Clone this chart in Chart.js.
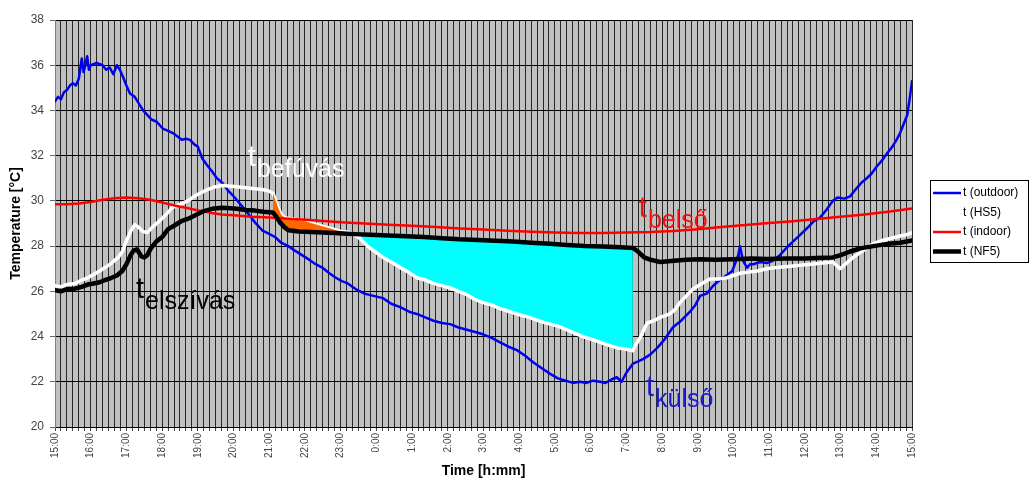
<!DOCTYPE html>
<html>
<head>
<meta charset="utf-8">
<title>Temperature [°C] – outdoor / HS5 / indoor / NF5</title>
<script src="https://cdn.jsdelivr.net/npm/chart.js@4.4.1/dist/chart.umd.min.js"></script>
<style>
  html, body { margin: 0; padding: 0; background: #fff; }
  #wrap { width: 1031px; height: 480px; }
</style>
</head>
<body>
<div id="wrap"><canvas id="chartTemp" width="1031" height="480"></canvas></div>
<script>
/* ── Data (x = minutes after 15:00, y = °C) ──────────────── */
const HOUR_LABELS = ['15:00','16:00','17:00','18:00','19:00','20:00','21:00','22:00','23:00','0:00','1:00','2:00','3:00','4:00','5:00','6:00','7:00','8:00','9:00','10:00','11:00','12:00','13:00','14:00','15:00'];
const SERIES_LABELS = ['t (outdoor)', 't (HS5)', 't (indoor)', 't (NF5)'];
const Y_TICKS = [20, 22, 24, 26, 28, 30, 32, 34, 36, 38];

const OUTDOOR_MIN = [0,5,10,15,20,25,30,35,40,45,48,51,54,57,60,70,80,86,92,98,104,109,114,120,126,134,141,148,155,162,171,181,190,198,206,213,220,227,234,240,247,255,264,272,281,291,302,313,324,336,348,359,370,380,392,403,415,427,438,449,461,472,482,492,505,520,535,551,565,580,595,608,622,636,650,664,678,692,706,719,733,747,762,776,790,804,818,832,845,858,870,882,893,904,916,925,935,944,952,960,971,980,988,1000,1012,1025,1038,1052,1067,1076,1084,1095,1106,1117,1128,1138,1143,1148,1151,1154,1157,1163,1168,1173,1185,1196,1206,1218,1230,1240,1252,1264,1275,1285,1296,1307,1315,1326,1336,1345,1355,1364,1372,1380,1390,1398,1407,1414,1420,1426,1432,1436,1440];
const OUTDOOR_T = [34.4,34.6,34.5,34.8,34.9,35.1,35.2,35.1,35.4,36.3,35.7,36.0,36.4,35.8,36.0,36.1,36.0,35.8,35.9,35.6,36.0,35.8,35.5,35.1,34.75,34.6,34.3,34.0,33.8,33.6,33.5,33.2,33.1,33.0,32.85,32.7,32.75,32.7,32.5,32.4,31.9,31.6,31.3,31.0,30.8,30.45,30.15,29.8,29.45,29.05,28.7,28.55,28.4,28.15,28.0,27.8,27.6,27.4,27.2,27.05,26.8,26.6,26.45,26.35,26.1,25.9,25.8,25.7,25.45,25.3,25.1,25.0,24.85,24.7,24.6,24.55,24.4,24.3,24.2,24.1,23.95,23.75,23.55,23.4,23.15,22.85,22.6,22.35,22.15,22.05,21.95,22.0,21.95,22.05,22.0,21.95,22.1,22.2,22.0,22.4,22.8,22.9,23.0,23.2,23.5,23.9,24.4,24.7,25.1,25.4,25.8,25.9,26.25,26.5,26.7,26.9,27.25,27.6,28.0,27.6,27.3,27.05,27.2,27.2,27.3,27.25,27.35,27.6,27.95,28.2,28.5,28.8,29.1,29.25,29.6,30.0,30.15,30.1,30.2,30.5,30.8,31.0,31.2,31.5,31.8,32.1,32.4,32.7,33.0,33.4,33.8,34.5,35.3];

const HS5_MIN = [0,10,20,34,45,55,65,75,84,95,106,114,121,128,134,140,147,155,164,173,185,197,210,223,237,252,266,281,297,314,331,348,358,366,371,375,380,386,400,420,440,460,480,491,500,512,525,538,551,565,580,594,608,622,636,650,664,678,692,705,719,733,747,762,776,790,804,818,832,846,860,873,887,901,915,930,944,958,971,975,983,995,1006,1017,1033,1042,1050,1061,1072,1087,1101,1115,1129,1140,1151,1165,1180,1196,1213,1232,1252,1270,1290,1307,1313,1319,1328,1341,1358,1374,1390,1405,1420,1430,1440];
const HS5_T = [26.25,26.2,26.3,26.35,26.5,26.6,26.75,26.9,27.05,27.25,27.5,27.8,28.3,28.7,28.95,28.85,28.65,28.6,28.85,29.05,29.35,29.7,29.85,30.0,30.25,30.45,30.6,30.68,30.65,30.6,30.55,30.5,30.45,30.35,30.0,29.7,29.4,29.25,29.2,29.1,28.95,28.8,28.65,28.62,28.55,28.35,28.0,27.75,27.5,27.3,27.05,26.85,26.6,26.5,26.35,26.25,26.15,26.0,25.85,25.65,25.5,25.4,25.25,25.12,25.0,24.9,24.78,24.65,24.55,24.45,24.3,24.15,24.0,23.88,23.75,23.62,23.5,23.45,23.37,23.6,23.94,24.6,24.7,24.85,25.0,25.2,25.5,25.8,26.1,26.35,26.55,26.55,26.6,26.7,26.8,26.85,26.9,27.0,27.05,27.1,27.15,27.2,27.25,27.3,27.15,27.0,27.2,27.5,27.8,28.1,28.25,28.35,28.45,28.5,28.6];

const INDOOR_MIN = [0,20,40,60,80,100,120,140,160,180,200,220,240,260,280,300,330,360,400,440,480,520,560,600,640,680,720,760,800,840,880,920,960,1000,1040,1080,1120,1160,1200,1240,1280,1320,1360,1400,1440];
const INDOOR_T = [29.85,29.85,29.88,29.95,30.05,30.12,30.15,30.12,30.05,29.93,29.8,29.7,29.58,29.48,29.4,29.36,29.3,29.26,29.2,29.13,29.06,29.0,28.95,28.9,28.84,28.78,28.73,28.68,28.64,28.6,28.58,28.58,28.6,28.62,28.67,28.75,28.85,28.93,29.02,29.1,29.2,29.3,29.4,29.52,29.66];

const NF5_MIN = [0,10,20,30,45,55,65,75,84,95,104,113,120,127,132,138,145,150,155,161,170,180,190,200,212,223,235,250,264,280,302,320,336,350,366,372,378,385,392,410,430,449,470,490,504,530,560,590,620,650,680,710,740,770,800,832,860,890,920,950,971,980,990,1000,1017,1040,1060,1084,1110,1140,1170,1196,1230,1260,1290,1307,1320,1335,1353,1375,1400,1420,1440];
const NF5_T = [26.05,26.0,26.1,26.1,26.2,26.3,26.35,26.4,26.5,26.6,26.7,26.9,27.2,27.6,27.8,27.85,27.55,27.5,27.6,27.9,28.2,28.4,28.75,28.9,29.1,29.2,29.35,29.55,29.65,29.7,29.66,29.6,29.57,29.52,29.49,29.3,29.05,28.85,28.7,28.65,28.62,28.6,28.58,28.55,28.53,28.5,28.47,28.44,28.4,28.35,28.3,28.27,28.24,28.2,28.15,28.1,28.05,28.0,27.98,27.95,27.92,27.75,27.5,27.4,27.3,27.35,27.4,27.42,27.4,27.42,27.45,27.43,27.45,27.45,27.48,27.5,27.6,27.75,27.9,28.0,28.1,28.15,28.25];

// shaded regions between t(HS5) and t(NF5), in minutes after 15:00
const WARM_RANGE = [366, 500];
const COOL_RANGE = [500, 971];

(function () {
    'use strict';

    /* ── Colours & fonts ───────────────────────────────────── */
    const BLUE = '#0000f0';
    const RED = '#ff0000';
    const BLACK = '#000000';
    const WHITE = '#ffffff';
    const ORANGE = '#ff6600';
    const CYAN = '#00ffff';
    const PLOT_BG = '#c0c0c0';
    const FONT = '"Liberation Sans", Arial, sans-serif';

    Chart.defaults.font.family = FONT;
    Chart.defaults.color = '#333';

    const toPoints = (mins, temps) => mins.map((m, i) => ({ x: m, y: temps[i] }));
    const pick = (mins, temps, range) =>
        toPoints(mins, temps).filter(p => p.x >= range[0] && p.x <= range[1]);

    /* ── Plugins ───────────────────────────────────────────── */
    const plotBackground = {
        id: 'plotBackground',
        beforeDraw(chart) {
            const { ctx, chartArea: a } = chart;
            ctx.save();
            ctx.fillStyle = PLOT_BG;
            ctx.fillRect(a.left, a.top, a.right - a.left, a.bottom - a.top);
            ctx.restore();
        }
    };

    // "t" with a subscript, placed in data coordinates
    const curveNotes = {
        id: 'curveNotes',
        afterDatasetsDraw(chart, args, opts) {
            const { ctx, scales: { x, y } } = chart;
            ctx.save();
            ctx.textBaseline = 'alphabetic';
            ctx.textAlign = 'left';
            opts.items.forEach(n => {
                const px = x.getPixelForValue(n.at[0]);
                const py = y.getPixelForValue(n.at[1]);
                ctx.fillStyle = n.color;
                ctx.font = '29px ' + FONT;
                ctx.fillText('t', px, py);
                const w = ctx.measureText('t').width;
                ctx.font = '25px ' + FONT;
                ctx.fillText(n.sub, px + w + 1, py + 11);
            });
            ctx.restore();
        }
    };

    const boxedLegend = {
        id: 'boxedLegend',
        afterDraw(chart, args, opts) {
            const { ctx } = chart;
            const { left, top, width, height, rowH } = opts;
            ctx.save();
            ctx.fillStyle = '#fff';
            ctx.fillRect(left, top, width, height);
            ctx.strokeStyle = '#000';
            ctx.lineWidth = 1;
            ctx.strokeRect(left + 0.5, top + 0.5, width - 1, height - 1);
            ctx.font = '12px ' + FONT;
            ctx.textBaseline = 'middle';
            ctx.fillStyle = '#000';
            SERIES_LABELS.forEach((label, i) => {
                const ds = chart.data.datasets[i];
                const cy = top + 13 + i * rowH;
                ctx.strokeStyle = ds.borderColor;
                ctx.lineWidth = ds.borderWidth;
                ctx.beginPath();
                ctx.moveTo(left + 3, cy);
                ctx.lineTo(left + 31, cy);
                ctx.stroke();
                ctx.fillText(label, left + 33, cy);
            });
            ctx.restore();
        }
    };

    /* ── Chart ─────────────────────────────────────────────── */
    const el = document.getElementById('chartTemp');
    const ctx = el.getContext('2d');

    const lineBase = { pointRadius: 0, pointHoverRadius: 0, tension: 0, fill: false, borderJoinStyle: 'round', borderCapStyle: 'round' };

    new Chart(ctx, {
        type: 'line',
        data: {
            datasets: [
                { ...lineBase, label: SERIES_LABELS[0], data: toPoints(OUTDOOR_MIN, OUTDOOR_T), borderColor: BLUE, borderWidth: 2.5, order: 5 },
                { ...lineBase, label: SERIES_LABELS[1], data: toPoints(HS5_MIN, HS5_T), borderColor: WHITE, borderWidth: 3.5, order: 3 },
                { ...lineBase, label: SERIES_LABELS[2], data: toPoints(INDOOR_MIN, INDOOR_T), borderColor: RED, borderWidth: 2.5, order: 1 },
                { ...lineBase, label: SERIES_LABELS[3], data: toPoints(NF5_MIN, NF5_T), borderColor: BLACK, borderWidth: 4.5, order: 0 },
                { ...lineBase, label: 'warm', data: pick(HS5_MIN, HS5_T, WARM_RANGE), borderWidth: 0, borderColor: 'rgba(0,0,0,0)',
                  fill: { target: 3, above: ORANGE, below: 'rgba(0,0,0,0)' }, order: 2 },
                { ...lineBase, label: 'cool', data: pick(HS5_MIN, HS5_T, COOL_RANGE), borderWidth: 0, borderColor: 'rgba(0,0,0,0)',
                  fill: { target: 3, above: 'rgba(0,0,0,0)', below: CYAN }, order: 4 },
            ]
        },
        options: {
            responsive: false,
            animation: false,
            devicePixelRatio: 1,
            layout: { padding: { top: 20, right: 119, bottom: 0, left: 0 } },
            plugins: {
                legend: { display: false },
                tooltip: { enabled: false },
                curveNotes: {
                    items: [
                        { sub: 'befúvás', color: '#ffffff', at: [324, 31.53] },
                        { sub: 'elszívás', color: '#000000', at: [136, 25.72] },
                        { sub: 'belső', color: '#ee1111', at: [981, 29.3] },
                        { sub: 'külső', color: '#1c1cc8', at: [993, 21.37] },
                    ]
                },
                boxedLegend: { left: 930, top: 180, width: 99, height: 83, rowH: 19.5 }
            },
            scales: {
                x: {
                    type: 'linear',
                    min: 0,
                    max: 1440,
                    afterFit(scale) { scale.height = 53; },
                    grid: { color: '#262626', lineWidth: 1, tickLength: 4, tickColor: '#444' },
                    border: { color: '#000' },
                    ticks: {
                        stepSize: 10,
                        autoSkip: false,
                        minRotation: 90,
                        maxRotation: 90,
                        padding: 2,
                        font: { size: 10 },
                        color: '#444',
                        callback: v => (v % 60 === 0 ? HOUR_LABELS[v / 60] : '')
                    },
                    title: {
                        display: true,
                        text: 'Time [h:mm]',
                        color: '#000',
                        font: { size: 14, weight: 'bold' },
                        padding: { top: 0, bottom: 0 }
                    }
                },
                y: {
                    min: Y_TICKS[0],
                    max: Y_TICKS[Y_TICKS.length - 1],
                    afterFit(scale) { scale.width = 55; },
                    afterBuildTicks(scale) { scale.ticks = Y_TICKS.map(v => ({ value: v })); },
                    grid: { color: '#000', lineWidth: 1, tickLength: 5, tickColor: '#666' },
                    border: { color: '#808080' },
                    ticks: { font: { size: 12 }, color: '#444', padding: 6 },
                    title: {
                        display: true,
                        text: 'Temperature [°C]',
                        color: '#000',
                        font: { size: 14, weight: 'bold' },
                        padding: { top: 8, bottom: 0 }
                    }
                }
            }
        },
        plugins: [plotBackground, curveNotes, boxedLegend]
    });
})();
</script>
</body>
</html>
